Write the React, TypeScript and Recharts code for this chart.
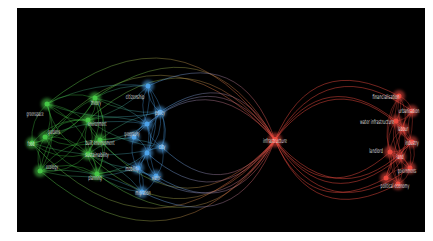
import React from 'react';
import { ScatterChart, Scatter, XAxis, YAxis } from 'recharts';

type Node = { id: string; x: number; y: number };
type Label = { text: string; x: number; y: number };

// cluster colour by first letter of node id
const COLORS: Record<string, string> = {
    g: '#46c846',
    b: '#4da3ea',
    h: '#f04a3e',
    r: '#ee4a3f',
};

const greenNodes: Node[] = [
    { id: 'g1', x: 47, y: 104 },
    { id: 'g2', x: 45, y: 137 },
    { id: 'g3', x: 32, y: 143 },
    { id: 'g4', x: 40, y: 171 },
    { id: 'g5', x: 95, y: 98 },
    { id: 'g6', x: 88, y: 120 },
    { id: 'g7', x: 100, y: 140 },
    { id: 'g8', x: 88, y: 154 },
    { id: 'g9', x: 97, y: 174 },
];

const blueNodes: Node[] = [
    { id: 'b1', x: 148, y: 86 },
    { id: 'b2', x: 160, y: 112 },
    { id: 'b3', x: 147, y: 124 },
    { id: 'b4', x: 134, y: 137 },
    { id: 'b5', x: 162, y: 147 },
    { id: 'b6', x: 147, y: 153 },
    { id: 'b7', x: 138, y: 168 },
    { id: 'b8', x: 156, y: 176 },
    { id: 'b9', x: 142, y: 192 },
];

const hubNodes: Node[] = [{ id: 'h', x: 275, y: 140 }];

const redNodes: Node[] = [
    { id: 'r1', x: 399, y: 96 },
    { id: 'r2', x: 412, y: 111 },
    { id: 'r3', x: 396, y: 121 },
    { id: 'r4', x: 403, y: 129 },
    { id: 'r5', x: 412, y: 142 },
    { id: 'r6', x: 390, y: 152 },
    { id: 'r7', x: 400, y: 157 },
    { id: 'r8', x: 410, y: 168 },
    { id: 'r9', x: 386, y: 178 },
    { id: 'r10', x: 398, y: 184 },
];

const greenLabels: Label[] = [
    { text: 'greenspace', x: 35, y: 114 },
    { text: 'gardens', x: 54, y: 132 },
    { text: 'food', x: 31, y: 144 },
    { text: 'ecology', x: 52, y: 167 },
    { text: 'theory', x: 96, y: 103 },
    { text: 'environment', x: 97, y: 124 },
    { text: 'built environment', x: 100, y: 143 },
    { text: 'sustainability', x: 97, y: 155 },
    { text: 'planning', x: 95, y: 178 },
];

const blueLabels: Label[] = [
    { text: 'citizenship', x: 135, y: 97 },
    { text: 'policy', x: 160, y: 113 },
    { text: 'geography', x: 132, y: 134 },
    { text: 'city', x: 162, y: 147 },
    { text: 'mobility', x: 132, y: 169 },
    { text: 'water', x: 156, y: 178 },
    { text: 'migration', x: 143, y: 193 },
];

const hubLabels: Label[] = [{ text: 'infrastructure', x: 275, y: 141 }];

const redLabels: Label[] = [
    { text: 'financialisation', x: 386, y: 97 },
    { text: 'urbanisation', x: 409, y: 111 },
    { text: 'water infrastructure', x: 377, y: 122 },
    { text: 'labour', x: 403, y: 129 },
    { text: 'industry', x: 412, y: 143 },
    { text: 'landlord', x: 376, y: 151 },
    { text: 'land', x: 400, y: 157 },
    { text: 'governments', x: 407, y: 171 },
    { text: 'political economy', x: 395, y: 186 },
];

const greenLinks: [string, string][] = [
    ['g1', 'g2'], ['g1', 'g3'], ['g1', 'g4'], ['g1', 'g5'], ['g1', 'g6'], ['g1', 'g7'], ['g1', 'g8'], ['g1', 'g9'],
    ['g2', 'g3'], ['g2', 'g4'], ['g2', 'g5'], ['g2', 'g6'], ['g2', 'g7'], ['g2', 'g8'], ['g2', 'g9'],
    ['g3', 'g4'], ['g3', 'g5'], ['g3', 'g6'], ['g3', 'g8'],
    ['g4', 'g5'], ['g4', 'g6'], ['g4', 'g7'], ['g4', 'g8'], ['g4', 'g9'],
    ['g5', 'g6'], ['g5', 'g7'], ['g5', 'g8'], ['g5', 'g9'],
    ['g6', 'g7'], ['g6', 'g8'], ['g6', 'g9'],
    ['g7', 'g8'], ['g7', 'g9'], ['g8', 'g9'],
];

const greenBlueLinks: [string, string][] = [
    ['g5', 'b1'], ['g5', 'b2'], ['g5', 'b3'], ['g6', 'b1'], ['g6', 'b3'], ['g6', 'b5'],
    ['g7', 'b2'], ['g7', 'b3'], ['g7', 'b5'], ['g7', 'b7'], ['g8', 'b4'], ['g8', 'b7'],
    ['g8', 'b9'], ['g9', 'b6'], ['g9', 'b8'], ['g9', 'b9'], ['g1', 'b1'], ['g1', 'b2'],
    ['g2', 'b3'], ['g4', 'b7'], ['g4', 'b9'], ['g3', 'b5'],
];

const blueLinks: [string, string][] = [
    ['b1', 'b2'], ['b1', 'b3'], ['b1', 'b4'], ['b1', 'b5'], ['b2', 'b3'], ['b2', 'b5'],
    ['b2', 'b6'], ['b3', 'b4'], ['b3', 'b5'], ['b3', 'b6'], ['b3', 'b7'], ['b4', 'b6'],
    ['b4', 'b7'], ['b5', 'b6'], ['b5', 'b8'], ['b6', 'b7'], ['b6', 'b8'], ['b6', 'b9'],
    ['b7', 'b8'], ['b7', 'b9'], ['b8', 'b9'], ['b2', 'b8'], ['b1', 'b6'],
];

const hubLinks: [string, string][] = [
    ['g1', 'h'], ['g2', 'h'], ['g3', 'h'], ['g4', 'h'], ['g5', 'h'], ['g6', 'h'], ['g7', 'h'],
    ['g8', 'h'], ['g9', 'h'], ['b1', 'h'], ['b2', 'h'], ['b3', 'h'], ['b4', 'h'], ['b5', 'h'],
    ['b6', 'h'], ['b7', 'h'], ['b8', 'h'], ['b9', 'h'],
    ['r1', 'h'], ['r2', 'h'], ['r3', 'h'], ['r4', 'h'], ['r5', 'h'], ['r6', 'h'], ['r7', 'h'],
    ['r8', 'h'], ['r9', 'h'], ['r10', 'h'],
];

const redLinks: [string, string][] = [
    ['r1', 'r2'], ['r1', 'r3'], ['r1', 'r4'], ['r1', 'r5'], ['r1', 'r6'], ['r1', 'r8'], ['r1', 'r10'],
    ['r2', 'r3'], ['r2', 'r4'], ['r2', 'r5'], ['r2', 'r7'], ['r2', 'r9'],
    ['r3', 'r4'], ['r3', 'r5'], ['r3', 'r6'], ['r3', 'r7'], ['r3', 'r8'],
    ['r4', 'r5'], ['r4', 'r6'], ['r4', 'r7'], ['r4', 'r10'],
    ['r5', 'r6'], ['r5', 'r7'], ['r5', 'r8'], ['r5', 'r9'],
    ['r6', 'r7'], ['r6', 'r8'], ['r6', 'r9'], ['r6', 'r10'],
    ['r7', 'r8'], ['r7', 'r9'], ['r7', 'r10'], ['r8', 'r9'], ['r8', 'r10'], ['r9', 'r10'],
];

const ALL_NODES = [...greenNodes, ...blueNodes, ...hubNodes, ...redNodes];
const ALL_LABELS = [...greenLabels, ...blueLabels, ...hubLabels, ...redLabels];
const LINKS = [...greenLinks, ...blueLinks, ...greenBlueLinks, ...redLinks, ...hubLinks];

const NODE_BY_ID: Record<string, Node> = {};
ALL_NODES.forEach((n) => { NODE_BY_ID[n.id] = n; });

// each link becomes two consecutive points; the line renderer pairs them up again
const linkPoints = LINKS.flatMap(([a, b]) => [NODE_BY_ID[a], NODE_BY_ID[b]]);

const renderLinks = (props: any) => {
    const pts = props.points || [];
    const defs: React.ReactNode[] = [];
    const paths: React.ReactNode[] = [];
    for (let i = 0; 2 * i + 1 < pts.length; i++) {
        const [a, b] = LINKS[i];
        const s = pts[2 * i];
        const t = pts[2 * i + 1];
        const dx = t.x - s.x;
        const dy = t.y - s.y;
        const len = Math.hypot(dx, dy) || 1;
        let nx = -dy / len;
        let ny = dx / len;
        if (ny < 0) { nx = -nx; ny = -ny; }
        const ca = COLORS[a[0]];
        const cb = COLORS[b[0]];
        let k = ca === cb ? 0.25 : 0.15;
        let dir = i % 2 === 0 ? 1 : -1;
        let width = 0.7;
        let alpha = 0.5;
        if (a === 'h' || b === 'h') {
            const other = a === 'h' ? t : s;
            const hub = a === 'h' ? s : t;
            k = 0.55;
            dir = other.y < hub.y ? -1 : 1;
            width = 0.8;
            alpha = 0.6;
        }
        const cx = (s.x + t.x) / 2 + nx * dir * k * len;
        const cy = (s.y + t.y) / 2 + ny * dir * k * len;
        let stroke = ca;
        if (ca !== cb) {
            const id = `lk${i}`;
            defs.push(
                <linearGradient key={id} id={id} gradientUnits="userSpaceOnUse" x1={s.x} y1={s.y} x2={t.x} y2={t.y}>
                    <stop offset="0" stopColor={ca} />
                    <stop offset="1" stopColor={cb} />
                </linearGradient>
            );
            stroke = `url(#${id})`;
        }
        paths.push(
            <path
                key={i}
                d={`M${s.x},${s.y}Q${cx},${cy} ${t.x},${t.y}`}
                fill="none"
                stroke={stroke}
                strokeWidth={width}
                strokeOpacity={alpha}
            />
        );
    }
    return (
        <g>
            <defs>
                {defs}
                <filter id="glow" x="-100%" y="-100%" width="300%" height="300%">
                    <feGaussianBlur stdDeviation="1.8" />
                </filter>
            </defs>
            {paths}
        </g>
    );
};

const NodeDot = (p: any) => {
    const c = COLORS[p.payload.id[0]];
    const r = p.payload.id === 'h' ? 3 : 2.5;
    return (
        <g>
            <circle cx={p.cx} cy={p.cy} r={r * 2.4} fill={c} opacity={0.55} filter="url(#glow)" />
            <circle cx={p.cx} cy={p.cy} r={r} fill={c} />
        </g>
    );
};

const LabelText = (p: any) => (
    <text
        x={p.cx}
        y={p.cy}
        dy="0.35em"
        textAnchor="middle"
        fontSize={6.5}
        fill="#d4d4d4"
        fontFamily="'DejaVu Sans Condensed', sans-serif"
        textLength={p.payload.text.length * 1.7}
        lengthAdjust="spacingAndGlyphs"
    >
        {p.payload.text}
    </text>
);

export default function App() {
    return (
        <div style={{ marginLeft: 9, width: 416, height: 224, background: '#000' }}>
            <ScatterChart width={416} height={224} margin={{ top: 0, right: 0, bottom: 0, left: 0 }}>
                <XAxis type="number" dataKey="x" domain={[17, 433]} hide />
                <YAxis type="number" dataKey="y" domain={[8, 232]} reversed hide />
                <Scatter
                    data={linkPoints}
                    line={renderLinks}
                    lineType="joint"
                    shape={() => <g />}
                    isAnimationActive={false}
                />
                <Scatter data={ALL_NODES} shape={NodeDot} isAnimationActive={false} />
                <Scatter data={ALL_LABELS} shape={LabelText} isAnimationActive={false} />
            </ScatterChart>
        </div>
    );
}
